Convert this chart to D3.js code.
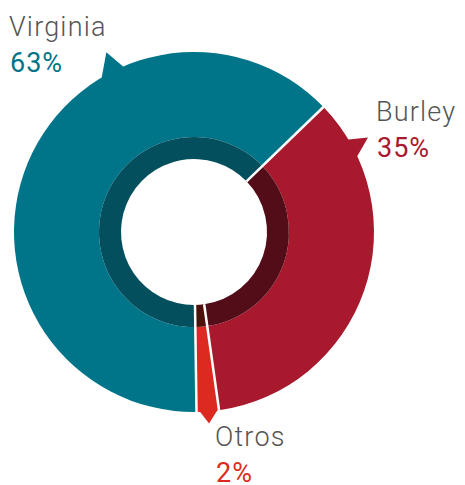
<!DOCTYPE html>
<html>
<head>
<meta charset="utf-8">
<script src="https://cdn.jsdelivr.net/npm/d3@7"></script>
<style>
  body { margin: 0; background: #fff; }
  .name { font-family: Roboto, sans-serif; font-weight: 300; fill: #555; letter-spacing: 1.2px; }
  .pct { font-family: Roboto, sans-serif; font-weight: 400; letter-spacing: 1px; }
</style>
</head>
<body>
<div id="chart"></div>
<script>
// data
var categories = ['Virginia', 'Burley', 'Otros'];
var values = [63, 35, 2];
var colors = ['#00758a', '#a8192d', '#dc2a20'];
var darkColors = ['#044f5e', '#530d18', '#4d100b'];

var width = 465, height = 485;
var cx = 194, cy = 232;
var rOuter = 180, rMid = 95, rInner = 73;

var svg = d3.select('#chart')
    .append('svg')
    .attr('width', width)
    .attr('height', height);

var g = svg.append('g').attr('transform', 'translate(' + cx + ',' + cy + ')');

// Virginia starts just left of the bottom and runs clockwise round to the top right
var rad = Math.PI / 180;
var pie = d3.pie().sort(null).value(function(d){ return d; })
    .startAngle(-180.8 * rad).endAngle(179.2 * rad);
var arcs = pie(values);

var arcOuter = d3.arc().innerRadius(rMid).outerRadius(rOuter);
var arcRing = d3.arc().innerRadius(rInner).outerRadius(rMid);

// pointer triangles (drawn under the slices)
var pointers = [
    {i: 0, a0: -32, a1: -22.5, at: -26, rt: 200},
    {i: 1, a0: 58.5, a1: 66, at: 61.5, rt: 198},
    {i: 2, a0: 171.5, a1: 179, at: 175.5, rt: 192}
];
function polar(a, r){ return [Math.sin(a * rad) * r, -Math.cos(a * rad) * r]; }

g.selectAll('.pointer')
    .data(pointers)
    .enter()
    .append('path')
    .attr('class', 'pointer')
    .attr('fill', function(d){ return colors[d.i]; })
    .attr('d', function(d){
        var p0 = polar(d.a0, rOuter - 4), p1 = polar(d.a1, rOuter - 4), t = polar(d.at, d.rt);
        return 'M' + p0 + 'L' + t + 'L' + p1 + 'Z';
    });

g.selectAll('.slice')
    .data(arcs)
    .enter()
    .append('path')
    .attr('class', 'slice')
    .attr('fill', function(d, i){ return colors[i]; })
    .attr('d', arcOuter);

g.selectAll('.ring')
    .data(arcs)
    .enter()
    .append('path')
    .attr('class', 'ring')
    .attr('fill', function(d, i){ return darkColors[i]; })
    .attr('d', arcRing);

// white separators
g.selectAll('.sep')
    .data(arcs)
    .enter()
    .append('line')
    .attr('class', 'sep')
    .attr('x1', function(d){ return polar(d.startAngle / rad, rInner)[0]; })
    .attr('y1', function(d){ return polar(d.startAngle / rad, rInner)[1]; })
    .attr('x2', function(d){ return polar(d.startAngle / rad, rOuter + 1)[0]; })
    .attr('y2', function(d){ return polar(d.startAngle / rad, rOuter + 1)[1]; })
    .attr('stroke', '#fff')
    .attr('stroke-width', 2.5);

// labels
var labelPos = [
    {x: 9, y: 36},
    {x: 376, y: 121},
    {x: 215, y: 446}
];

var labels = svg.selectAll('.label')
    .data(categories)
    .enter()
    .append('g')
    .attr('class', 'label')
    .attr('transform', function(d, i){ return 'translate(' + labelPos[i].x + ',' + labelPos[i].y + ')'; });

labels.append('text')
    .attr('class', 'name')
    .attr('font-size', 27)
    .text(function(d){ return d; });

labels.append('text')
    .attr('class', 'pct')
    .attr('x', 1)
    .attr('y', 36)
    .attr('font-size', 27)
    .attr('fill', function(d, i){ return colors[i]; })
    .text(function(d, i){ return values[i] + '%'; });
</script>
</body>
</html>
